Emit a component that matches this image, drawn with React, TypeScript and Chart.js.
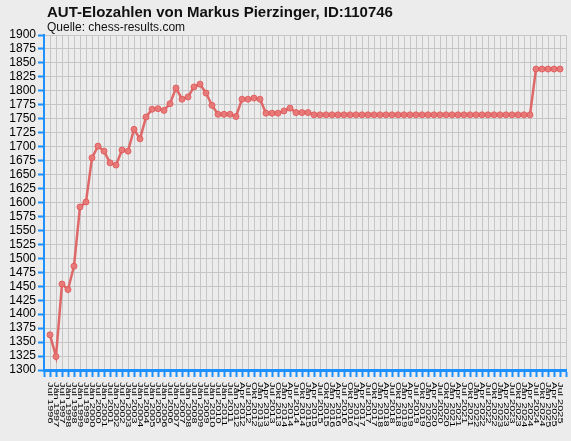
import { Chart, registerables } from "chart.js";
import { useEffect, useRef } from "react";

Chart.register(...registerables);

const TITLE = "AUT-Elozahlen von Markus Pierzinger, ID:110746";
const SUBTITLE = "Quelle: chess-results.com";

// rating lists (first word = month, then year)
const dates = [
    "Jul 1996",
    "Jän 1997", "Jul 1997", "Jän 1998", "Jul 1998", "Jän 1999", "Jul 1999",
    "Jän 2000", "Jul 2000", "Jän 2001", "Jul 2001", "Jän 2002", "Jul 2002",
    "Jän 2003", "Jul 2003", "Jän 2004", "Jul 2004", "Jän 2005", "Jul 2005",
    "Jän 2006", "Jul 2006", "Jän 2007", "Jul 2007", "Jän 2008", "Jul 2008",
    "Jän 2009", "Jul 2009", "Jän 2010", "Jul 2010", "Jän 2011", "Jul 2011",
    "Jän 2012", "Apr 2012", "Jul 2012", "Okt 2012",
    "Jän 2013", "Apr 2013", "Jul 2013", "Okt 2013",
    "Jän 2014", "Apr 2014", "Jul 2014", "Okt 2014",
    "Jän 2015", "Apr 2015", "Jul 2015", "Okt 2015",
    "Jän 2016", "Apr 2016", "Jul 2016", "Okt 2016",
    "Jän 2017", "Apr 2017", "Jul 2017", "Okt 2017",
    "Jän 2018", "Apr 2018", "Jul 2018", "Okt 2018",
    "Jän 2019", "Apr 2019", "Jul 2019", "Okt 2019",
    "Jän 2020", "Apr 2020", "Jul 2020", "Okt 2020",
    "Jän 2021", "Apr 2021", "Jul 2021", "Okt 2021",
    "Jän 2022", "Apr 2022", "Jul 2022", "Okt 2022",
    "Jän 2023", "Apr 2023", "Jul 2023", "Okt 2023",
    "Jän 2024", "Apr 2024", "Jul 2024", "Okt 2024",
    "Jän 2025", "Apr 2025", "Jul 2025",
];

const elo = [
    1363, 1324, 1454, 1444, 1486, 1592, 1601, 1680, 1701, 1692,
    1671, 1667, 1694, 1692, 1731, 1714, 1753, 1767, 1768, 1765,
    1777, 1805, 1785, 1789, 1807, 1812, 1796, 1774, 1758, 1758,
    1758, 1754, 1785, 1785, 1787, 1785, 1760, 1760, 1760, 1764,
    1769, 1761, 1761, 1761, 1757, 1757, 1757, 1757, 1757, 1757,
    1757, 1757, 1757, 1757, 1757, 1757, 1757, 1757, 1757, 1757,
    1757, 1757, 1757, 1757, 1757, 1757, 1757, 1757, 1757, 1757,
    1757, 1757, 1757, 1757, 1757, 1757, 1757, 1757, 1757, 1757,
    1757, 1839, 1839, 1839, 1839, 1839,
];

const yMin = 1300;
const yMax = 1900;
const yStep = 25;

const BLUE = "#1e90ff";
const GRID = "#c6c6c6";
const LINE = "rgba(222, 90, 90, 0.9)";

// title + subtitle in the top left corner
const titlePlugin = {
    id: "titleText",
    afterDraw(chart: Chart) {
        const ctx = chart.ctx;
        ctx.save();
        ctx.fillStyle = "#111";
        ctx.textAlign = "left";
        ctx.textBaseline = "alphabetic";
        ctx.font = 'bold 15px "Liberation Sans"';
        ctx.fillText(TITLE, 47, 17);
        ctx.font = '12px "Liberation Sans"';
        ctx.fillText(SUBTITLE, 47, 31);
        ctx.restore();
    },
};

// x labels read top to bottom, starting just under the axis
const xLabelPlugin = {
    id: "xLabels",
    afterDraw(chart: Chart) {
        const scale = chart.scales.x;
        const ctx = chart.ctx;
        ctx.save();
        ctx.font = '11px "Liberation Sans"';
        ctx.fillStyle = "#000";
        ctx.textAlign = "left";
        ctx.textBaseline = "middle";
        dates.forEach((label, i) => {
            const x = scale.getPixelForValue(i + 1);
            ctx.save();
            ctx.translate(x, scale.top + 12);
            ctx.rotate(Math.PI / 2);
            ctx.scale(1, 0.7);
            ctx.fillText(label, 0, 0);
            ctx.restore();
        });
        ctx.restore();
    },
};

export default function App() {
    const canvasRef = useRef<HTMLCanvasElement | null>(null);

    useEffect(() => {
        document.body.style.margin = "0";
        const canvas = canvasRef.current;
        if (!canvas) return;

        const chart = new Chart(canvas, {
            type: "line",
            data: {
                datasets: [
                    {
                        data: elo.map((v, i) => ({ x: i + 1, y: v })),
                        borderColor: LINE,
                        borderWidth: 2.5,
                        pointRadius: 3,
                        pointBorderWidth: 1,
                        pointBackgroundColor: "rgba(232, 120, 120, 0.95)",
                        pointBorderColor: LINE,
                        tension: 0,
                    },
                ],
            },
            options: {
                responsive: false,
                animation: false,
                layout: { padding: { top: 35, right: 5, left: 0, bottom: 0 } },
                plugins: {
                    legend: { display: false },
                    tooltip: { enabled: false },
                },
                scales: {
                    x: {
                        type: "linear",
                        min: 0,
                        max: dates.length + 1,
                        ticks: { display: false, stepSize: 1, autoSkip: false },
                        grid: {
                            color: GRID,
                            lineWidth: 1,
                            tickLength: 7,
                            tickColor: BLUE,
                            tickWidth: 2,
                        },
                        border: { color: BLUE, width: 3 },
                        afterFit(scale: any) {
                            scale.height = 71;
                        },
                    },
                    y: {
                        min: yMin,
                        max: yMax,
                        ticks: {
                            stepSize: yStep,
                            autoSkip: false,
                            color: "#000",
                            padding: 2,
                            font: { family: '"Liberation Sans"', size: 12 },
                            callback: (v: any) => String(v),
                        },
                        grid: {
                            color: GRID,
                            lineWidth: 1,
                            tickLength: 6,
                            tickColor: BLUE,
                            tickWidth: 2,
                        },
                        border: { color: BLUE, width: 2 },
                        afterFit(scale: any) {
                            scale.width = 44;
                        },
                    },
                },
            },
            plugins: [titlePlugin, xLabelPlugin],
        });

        return () => {
            chart.destroy();
        };
    }, []);

    return (
        <div style={{ width: 571, height: 441, background: "#ececec" }}>
            <canvas ref={canvasRef} width={571} height={441}></canvas>
        </div>
    );
}
